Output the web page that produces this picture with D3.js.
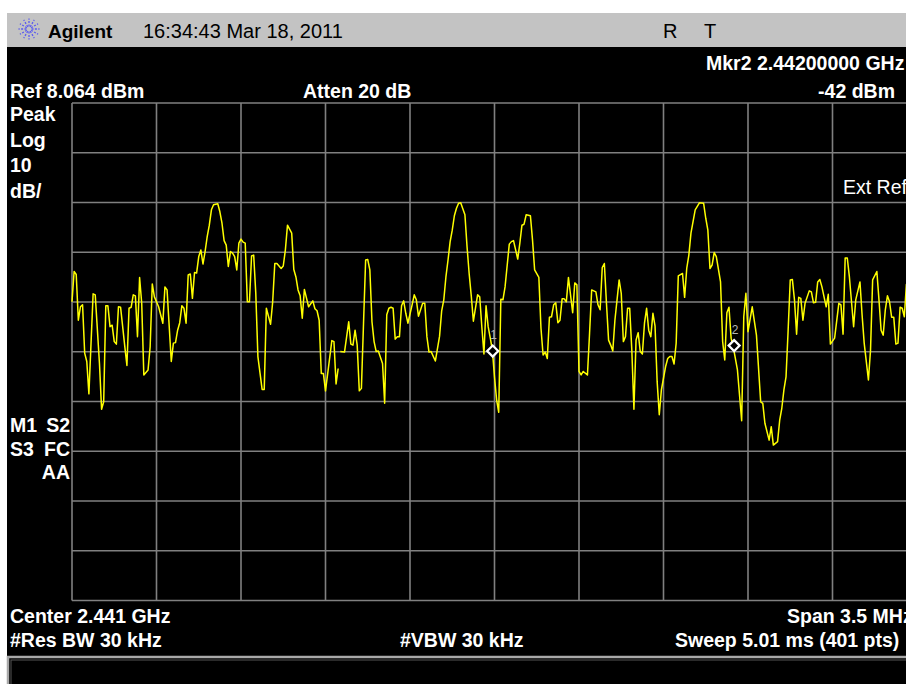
<!DOCTYPE html>
<html>
<head>
<meta charset="utf-8">
<title>Agilent spectrum</title>
<script src="https://cdn.jsdelivr.net/npm/d3@7"></script>
<style>
    body { margin: 0; background: #fff; }
    svg { display: block; }
    text { font-family: "Liberation Sans", Arial, sans-serif; }
</style>
</head>
<body>
<div id="screen"></div>
<script>

// analyzer settings
const refLevel = 8.064;          // dBm, top line
const dbPerDiv = 10;
const divisions = 10;
const centerGHz = 2.441;
const spanMHz = 3.5;
const sweepPts = 401;

// trace: sweep point index (0..400) and level in dBm (null = gap in trace)
const tracePt = [0, 1, 2, 3, 4, 5, 6, 7, 8, 10, 11, 13, 14, 15, 16, 17, 18, 19, 20, 21, 22, 23, 25, 26, 27, 28, 29, 30, 31, 32,
    33, 34, 36, 37, 38, 39, 41, 43, 44, 45, 47, 48, 49, 50, 51, 52, 53, 54, 55, 56, 57, 58, 59, 60, 61, 62, 63, 64, 65, 66,
    67, 69, 70, 71, 72, 73, 74, 75, 76, 77, 78, 79, 80, 81, 82, 83, 84, 85, 86, 87, 88, 90, 91, 92, 94, 95, 96, 97, 99, 100,
    101, 102, 104, 105, 106, 107, 108, 109, 110, 112, 114, 115, 116, 117, 118, 119, 120, 123, 124, 125, 126, 126, 127, 129, 131, 132, 133, 134, 135, 136,
    137, 138, 139, 140, 141, 142, 143, 144, 145, 147, 148, 149, 150, 151, 152, 153, 154, 155, 156, 157, 158, 159, 161, 162, 163, 164, 166, 167, 168, 169,
    170, 172, 174, 175, 176, 177, 178, 179, 180, 181, 182, 183, 184, 186, 187, 188, 189, 190, 192, 193, 194, 195, 196, 197, 198, 199, 200, 201, 202, 203,
    204, 205, 207, 208, 209, 211, 212, 213, 214, 215, 217, 218, 219, 221, 222, 223, 224, 225, 226, 227, 228, 229, 230, 231, 232, 233, 234, 235, 237, 238,
    239, 240, 241, 242, 244, 245, 246, 248, 249, 250, 251, 252, 253, 254, 255, 256, 257, 259, 260, 261, 262, 263, 264, 265, 266, 267, 268, 269, 270, 271,
    272, 273, 274, 275, 276, 277, 278, 279, 281, 282, 283, 284, 285, 286, 287, 289, 290, 291, 292, 293, 295, 297, 299, 300, 301, 302, 303, 304, 305, 307,
    308, 309, 310, 311, 312, 313, 315, 317, 318, 319, 320, 322, 324, 326, 327, 328, 330, 331, 332, 334, 335, 336, 337, 338, 339, 340, 341, 342, 343, 344,
    345, 346, 347, 349, 350, 351, 352, 353, 354, 355, 357, 358, 359, 361, 363, 364, 365, 366, 367, 368, 370, 371, 373, 374, 375, 377, 378, 379, 381, 382,
    383, 384, 385, 386, 387, 388, 389, 390, 391, 392, 393, 394, 395];

const traceDbm = [-31.9, -25.8, -26.4, -35.6, -32.9, -32.5, -42.2, -43.9, -50.4, -30.3, -30.5, -44.3, -53.5, -52.0, -32.7, -32.7, -36.9, -36.6, -39.9, -40.4, -32.9, -33.0, -40.9, -44.7, -33.2, -33.0, -30.5, -30.7, -38.9, -27.0,
    -32.2, -46.6, -45.6, -40.9, -28.3, -30.9, -32.9, -36.2, -28.9, -29.5, -43.9, -40.2, -40.1, -37.6, -36.1, -32.7, -33.2, -36.2, -26.5, -26.3, -31.2, -26.0, -26.1, -22.8, -21.5, -24.3, -21.8, -18.8, -16.5, -13.4,
    -12.4, -12.2, -13.8, -16.1, -19.6, -20.5, -24.8, -21.8, -22.1, -22.8, -25.5, -20.1, -19.3, -19.9, -20.1, -31.9, -31.9, -22.7, -22.5, -30.2, -42.9, -49.5, -49.5, -33.2, -36.4, -31.9, -24.2, -24.2, -25.2, -24.7,
    -21.5, -16.5, -18.1, -25.4, -26.9, -29.5, -30.7, -35.2, -29.4, -32.9, -31.7, -33.3, -33.7, -35.6, -46.3, -46.3, -49.8, -39.7, -39.9, -48.4, -45.3, null, -41.9, -42.0, -35.9, -40.4, -40.6, -37.6, -40.6, -49.8,
    -49.3, -36.2, -23.5, -23.4, -25.5, -35.9, -39.9, -41.9, -41.8, -44.3, -52.3, -34.5, -33.2, -33.0, -33.2, -39.4, -38.9, -38.9, -32.7, -31.7, -34.2, -36.2, -32.5, -30.5, -31.5, -34.8, -32.2, -32.2, -38.9, -42.0,
    -41.9, -43.8, -38.8, -33.7, -31.5, -26.9, -23.5, -19.8, -17.5, -14.6, -13.1, -12.1, -12.0, -14.4, -20.8, -26.2, -30.7, -35.8, -30.5, -30.9, -36.9, -42.4, -32.7, -36.9, -39.2, -41.6, -47.0, -51.6, -54.1, -31.4,
    -31.5, -28.9, -20.3, -19.8, -19.6, -23.3, -20.1, -16.5, -16.3, -14.4, -14.6, -19.5, -25.5, -27.0, -37.2, -42.6, -42.0, -43.3, -35.0, -34.9, -32.5, -32.1, -36.1, -35.6, -31.3, -31.3, -31.9, -27.0, -34.1, -28.1,
    -28.5, -45.9, -46.6, -45.9, -46.6, -38.2, -29.5, -29.9, -32.5, -33.5, -25.0, -24.2, -32.2, -39.6, -40.6, -41.8, -35.6, -27.5, -30.2, -39.9, -38.9, -33.2, -33.2, -41.6, -53.5, -39.6, -38.1, -41.9, -42.4, -36.2,
    -33.2, -37.6, -38.9, -34.2, -36.8, -48.0, -54.6, -49.6, -44.9, -43.3, -42.9, -42.9, -44.4, -40.2, -26.7, -26.2, -31.0, -25.2, -22.5, -18.1, -13.4, -12.0, -12.1, -15.1, -17.5, -25.2, -24.5, -22.0, -22.8, -27.9,
    -39.9, -43.6, -34.1, -33.0, -39.2, -40.9, -45.6, -55.8, -34.9, -30.2, -37.9, -32.9, -38.6, -52.0, -52.3, -56.3, -59.7, -57.0, -60.7, -60.0, -55.7, -53.3, -49.6, -47.0, -37.6, -27.5, -27.4, -31.5, -38.4, -31.0,
    -31.2, -35.6, -32.2, -29.7, -29.9, -32.1, -32.0, -27.9, -27.4, -28.9, -32.9, -30.4, -40.4, -39.2, -32.2, -32.5, -38.4, -23.1, -23.1, -26.9, -36.9, -31.5, -27.9, -34.5, -40.2, -47.6, -41.6, -27.5, -25.8, -31.5,
    -37.6, -38.6, -33.5, -30.7, -31.9, -35.0, -35.0, -40.4, -40.2, -33.0, -33.2, -34.9, -28.3];

// markers
const markerNames = ["1", "2"];
const markerGHz = [2.441, 2.442];
const markerDbm = [-41.8, -40.7];

// annotation texts
const headerTime = "16:34:43  Mar 18, 2011";
const mkrReadout = ["Mkr2  2.44200000 GHz", "-42 dBm"];
const leftLabels = ["Peak", "Log", "10", "dB/"];
const statusRows = [["M1", "S2"], ["S3", "FC"], ["", "AA"]];


/*
 * SpectrumScreen - draws the analyzer screen shot
 */

class SpectrumScreen {

    constructor(_parentElement) {
        this.parentElement = _parentElement;
        this.initVis();
    }

    initVis() {
        let vis = this;

        vis.width = 906;
        vis.height = 684;
        vis.grid = { left: 72, top: 103, width: 845, height: 497.5 };

        vis.svg = d3.select("#" + vis.parentElement).append("svg")
            .attr("width", vis.width)
            .attr("height", vis.height);

        // screen frame: white border, grey title bar, black display
        vis.svg.append("rect").attr("width", vis.width).attr("height", vis.height).attr("fill", "#fff");
        vis.svg.append("rect").attr("x", 7).attr("y", 13).attr("width", vis.width - 7).attr("height", 34).attr("fill", "#c3c3c3");
        vis.svg.append("rect").attr("x", 7).attr("y", 47).attr("width", vis.width - 7).attr("height", vis.height - 47).attr("fill", "#000");

        // message box at bottom
        vis.svg.append("rect").attr("x", 8).attr("y", 657).attr("width", 910).attr("height", 40)
            .attr("fill", "none").attr("stroke", "#a8a8a8").attr("stroke-width", 2.5);
        vis.svg.append("rect").attr("x", 11).attr("y", 660).attr("width", 910).attr("height", 40)
            .attr("fill", "none").attr("stroke", "#555").attr("stroke-width", 1);

        // scales
        let startGHz = centerGHz - spanMHz / 2000;
        let stopGHz = centerGHz + spanMHz / 2000;
        vis.x = d3.scaleLinear()
            .domain([startGHz, stopGHz])
            .range([vis.grid.left, vis.grid.left + vis.grid.width]);
        vis.y = d3.scaleLinear()
            .domain([refLevel, refLevel - dbPerDiv * divisions])
            .range([vis.grid.top, vis.grid.top + vis.grid.height]);
        vis.ptToGHz = d3.scaleLinear().domain([0, sweepPts - 1]).range([startGHz, stopGHz]);

        // graticule
        let g = vis.svg.append("g").attr("class", "graticule")
            .attr("stroke", "#808080").attr("stroke-width", 1.6);
        d3.range(divisions + 1).forEach(i => {
            let f = startGHz + i * (spanMHz / 1000) / divisions;
            g.append("line")
                .attr("x1", vis.x(f)).attr("x2", vis.x(f))
                .attr("y1", vis.y.range()[0]).attr("y2", vis.y.range()[1]);
            let lvl = refLevel - i * dbPerDiv;
            g.append("line")
                .attr("x1", vis.x.range()[0]).attr("x2", vis.x.range()[1])
                .attr("y1", vis.y(lvl)).attr("y2", vis.y(lvl));
        });

        vis.drawText();
        vis.updateVis();
    }

    drawText() {
        let vis = this;

        // Agilent spark logo
        let logo = vis.svg.append("g").attr("transform", "translate(29,29)")
            .attr("stroke", "#5a5af0").attr("stroke-width", 1.3).attr("stroke-dasharray", "2,1.4");
        d3.range(12).forEach(i => {
            let a = i * Math.PI / 6;
            logo.append("line")
                .attr("x1", 2.5 * Math.cos(a)).attr("y1", 2.5 * Math.sin(a))
                .attr("x2", 10.5 * Math.cos(a)).attr("y2", 10.5 * Math.sin(a));
        });

        let add = (txt, x, y, opts = {}) => vis.svg.append("text")
            .attr("x", x).attr("y", y)
            .attr("fill", opts.fill || "#fff")
            .attr("font-size", opts.size || 19.5)
            .attr("font-weight", opts.weight || "bold")
            .attr("text-anchor", opts.anchor || "start")
            .text(txt);

        // title bar
        add("Agilent", 48, 38, { fill: "#000", size: 19 });
        add(headerTime, 143, 38, { fill: "#000", size: 20, weight: "normal" });
        add("R", 663, 38, { fill: "#000", size: 20, weight: "normal" });
        add("T", 704, 38, { fill: "#000", size: 20, weight: "normal" });

        // top annotations
        add(mkrReadout[0], 706, 70);
        add("Ref " + refLevel + " dBm", 10, 98);
        add("Atten 20 dB", 303, 98);
        add(mkrReadout[1], 895, 98, { anchor: "end" });

        leftLabels.forEach((t, i) => add(t, 10, 121 + i * 25.7));
        add("Ext Ref", 843, 194, { weight: "normal" });

        statusRows.forEach((r, i) => {
            if (r[0]) add(r[0], 10, 432 + i * 23.7);
            add(r[1], 70, 432 + i * 23.7, { anchor: "end" });
        });

        // bottom annotations
        add("Center " + centerGHz + " GHz", 10, 623);
        add("Span " + spanMHz + " MHz", 787, 623);
        add("#Res BW 30 kHz", 10, 647);
        add("#VBW 30 kHz", 400, 647);
        add("Sweep 5.01 ms (" + sweepPts + " pts)", 675, 647);
    }

    updateVis() {
        let vis = this;

        let trace = tracePt.map((p, i) => ({ f: vis.ptToGHz(p), v: traceDbm[i] }));

        let line = d3.line()
            .defined(d => d.v !== null)
            .x(d => vis.x(d.f))
            .y(d => vis.y(d.v));

        vis.svg.append("path")
            .datum(trace)
            .attr("fill", "none")
            .attr("stroke", "#ffff00")
            .attr("stroke-width", 1.5)
            .attr("stroke-linejoin", "round")
            .attr("d", line);

        // markers
        let mk = vis.svg.selectAll(".marker")
            .data(markerNames.map((n, i) => ({ n: n, f: markerGHz[i], v: markerDbm[i] })))
            .enter().append("g")
            .attr("class", "marker")
            .attr("transform", d => "translate(" + (vis.x(d.f) - 1.8) + "," + vis.y(d.v) + ")");

        mk.append("path")
            .attr("d", "M0,-5.5L5.5,0L0,5.5L-5.5,0Z")
            .attr("fill", "#000")
            .attr("stroke", "#fff")
            .attr("stroke-width", 2.2);

        mk.append("text")
            .attr("x", 1)
            .attr("y", -12)
            .attr("text-anchor", "middle")
            .attr("font-size", 12)
            .attr("fill", "#b4b4b4")
            .text(d => d.n);
    }
}

let screen = new SpectrumScreen("screen");

</script>
</body>
</html>
